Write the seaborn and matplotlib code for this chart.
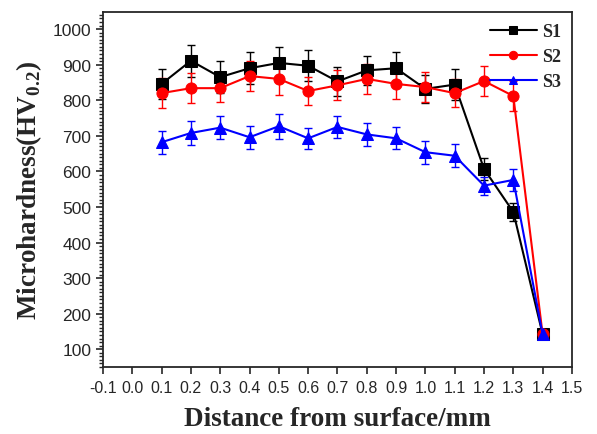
import numpy as np
import pandas as pd
import matplotlib
matplotlib.use("Agg")
import matplotlib.pyplot as plt
from matplotlib.ticker import MultipleLocator, FormatStrFormatter
import seaborn as sns

# distance from surface (mm)
distance = [0.1, 0.2, 0.3, 0.4, 0.5, 0.6, 0.7, 0.8, 0.9, 1.0, 1.1, 1.2, 1.3, 1.4]

s1 = [846, 911, 865, 890, 905, 897, 853, 884, 890, 832, 844, 607, 486, 142]
s1_err = [42, 45, 45, 45, 44, 44, 40, 41, 45, 40, 44, 30, 25, 8]

s2 = [820, 834, 834, 868, 860, 826, 842, 860, 846, 837, 820, 854, 812, 142]
s2_err = [42, 42, 40, 43, 44, 40, 42, 42, 42, 42, 40, 42, 41, 8]

s3 = [682, 708, 723, 696, 727, 693, 725, 704, 693, 654, 644, 560, 576, 142]
s3_err = [32, 34, 33, 33, 35, 30, 32, 33, 31, 32, 32, 25, 30, 8]

series = ["S1", "S2", "S3"]
colors = {"S1": "black", "S2": "red", "S3": "blue"}
markers = {"S1": "s", "S2": "o", "S3": "^"}

rows = []
for name, vals, errs in zip(series, [s1, s2, s3], [s1_err, s2_err, s3_err]):
    for d, v, e in zip(distance, vals, errs):
        rows.append({"distance": d, "hardness": v, "err": e, "sample": name})
df = pd.DataFrame(rows)

sns.set_style("ticks")
plt.rcParams["font.family"] = ["Liberation Sans", "DejaVu Sans"]
plt.rcParams["mathtext.fontset"] = "custom"
plt.rcParams["mathtext.bf"] = "Liberation Serif:bold"
plt.rcParams["mathtext.rm"] = "Liberation Serif"

fig = plt.figure(figsize=(5.97, 4.35), dpi=100)
ax = fig.add_axes([0.1725, 0.154, 0.7855, 0.816])

for name in series:
    sub = df[df["sample"] == name]
    ax.errorbar(sub["distance"], sub["hardness"], yerr=sub["err"], fmt="none",
                ecolor=colors[name], elinewidth=1.0, capsize=3, capthick=1.0, zorder=2)
    sns.lineplot(data=sub, x="distance", y="hardness", ax=ax, color=colors[name],
                 marker=markers[name], markersize=8, markeredgecolor=colors[name],
                 linewidth=1.5, label=name, zorder=3)

ax.set_xlim(-0.1, 1.5)
ax.set_ylim(50, 1048)
ax.xaxis.set_major_locator(MultipleLocator(0.1))
ax.xaxis.set_major_formatter(FormatStrFormatter("%.1f"))
ax.yaxis.set_major_locator(MultipleLocator(100))
ax.yaxis.set_minor_locator(MultipleLocator(10))
ax.tick_params(axis="x", which="major", direction="out", length=5, width=1.2, labelsize=11.5, pad=4)
ax.tick_params(axis="y", which="major", direction="out", length=5, width=1.2, labelsize=12.5)
ax.tick_params(axis="y", which="minor", direction="out", length=3, width=1.0)
for s in ax.spines.values():
    s.set_linewidth(1.3)

ax.set_xlabel("Distance from surface/mm", fontsize=19.5, fontweight="bold",
              family="Liberation Serif", labelpad=8)
ax.set_ylabel(r"Microhardness(HV$_{\mathbf{0.2}}$)", fontsize=19.5, fontweight="bold",
              family="Liberation Serif", labelpad=6)

leg = ax.legend(loc="upper right", frameon=False, handlelength=2.6,
                prop={"family": "Liberation Serif", "weight": "bold", "size": 13},
                borderaxespad=0.2, handletextpad=0.3, labelspacing=0.45)
for h in leg.legend_handles:
    h.set_markersize(6)

fig.savefig("out.png", dpi=100)
